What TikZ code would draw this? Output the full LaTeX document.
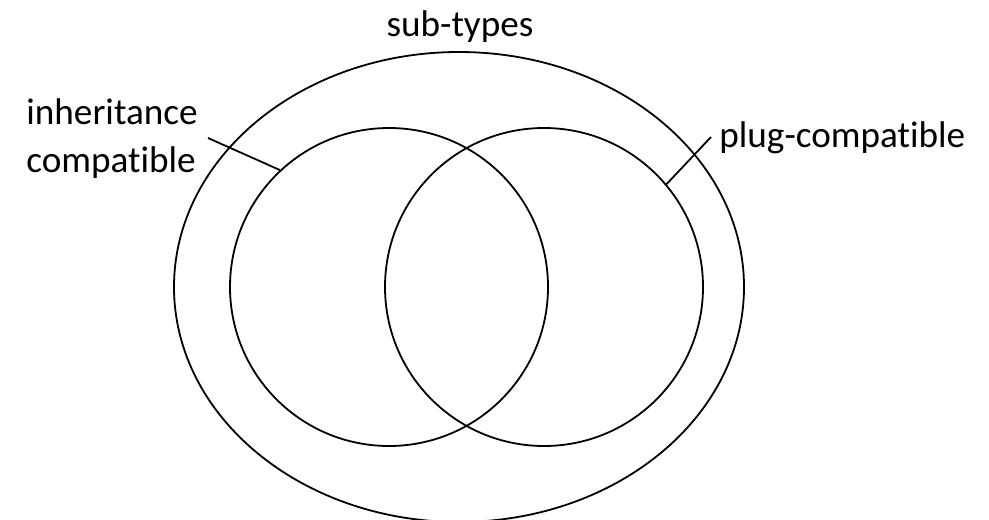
\documentclass[tikz,border=0pt]{standalone}
\usepackage{fontspec}
\setmainfont{Carlito}[Ligatures=NoCommon]
\usetikzlibrary{shapes.geometric}
\tikzset{
  venn/.style={draw, line width=0.9pt, inner sep=0pt},
  tag/.style={font=\fontsize{18.6}{24}\selectfont, inner sep=0pt},
  pointer/.style={line width=0.9pt}
}
\begin{document}
\begin{tikzpicture}
    [x=0.5pt, y=-0.5pt]
    \useasboundingbox (0,0) rectangle (989,519);
    %sets
    \node[venn, ellipse, minimum width=285pt, minimum height=235pt] (subtypes) at (459,287) {};
    \node[venn, circle, minimum size=159pt] (inherit) at (389,287) {};
    \node[venn, circle, minimum size=159pt] (plug) at (544,287) {};
    %labels
    \node[tag, anchor=base] (subtypeslabel) at (460,37) {sub-types};
    \node[tag, anchor=base west, align=left] (inheritlabel) at (26,172) {inheritance\\compatible};
    \node[tag, anchor=base west] (pluglabel) at (719,148) {plug-compatible};
    %pointers
    \coordinate (inheritend) at (208,138);
    \coordinate (plugend) at (711,137);
    \draw[pointer] (inheritend) -- (inherit.133.5);
    \draw[pointer] (plugend) -- (plug.40.4);
\end{tikzpicture}
\end{document}
